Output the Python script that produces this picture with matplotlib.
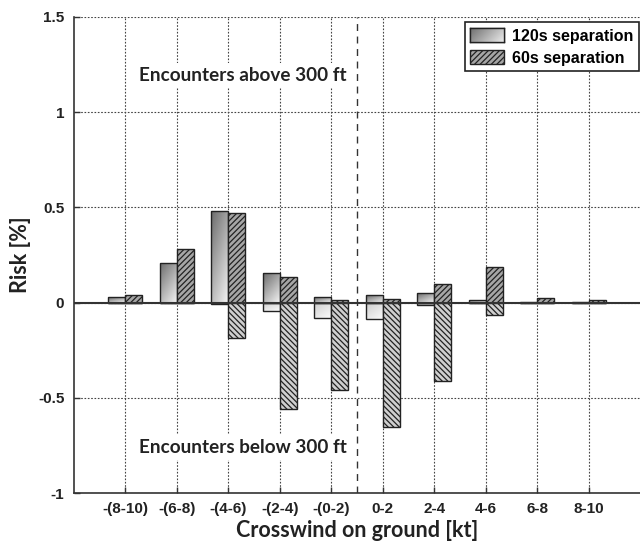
import numpy as np
import matplotlib
matplotlib.use("Agg")
import matplotlib.pyplot as plt
from matplotlib.patches import Rectangle

categories = ['-(8-10)', '-(6-8)', '-(4-6)', '-(2-4)', '-(0-2)', '0-2', '2-4', '4-6', '6-8', '8-10']
sep120_above = [0.028, 0.21, 0.482, 0.155, 0.030, 0.039, 0.051, 0.014, 0.004, 0.003]
sep120_below = [0.0, 0.0, -0.007, -0.044, -0.082, -0.086, -0.014, 0.0, 0.0, 0.0]
sep60_above = [0.039, 0.28, 0.472, 0.134, 0.013, 0.018, 0.097, 0.185, 0.026, 0.013]
sep60_below = [0.0, 0.0, -0.186, -0.559, -0.459, -0.654, -0.41, -0.066, 0.0, 0.0]

plt.rcParams['font.family'] = ['Liberation Sans', 'DejaVu Sans']
plt.rcParams['hatch.linewidth'] = 0.9
txt_font = ['Lato', 'DejaVu Sans']
dark = '#222222'

fig = plt.figure(figsize=(6.4, 5.46), dpi=100)
ax = fig.add_axes([0.1156, 0.0965, 0.8844, 0.8729])

x = np.arange(1, len(categories) + 1)
w = 0.33

g = np.linspace(0, 1, 64)
gx, gy = np.meshgrid(g, g)
ramp = 0.6 * gy + 0.4 * gx  # dark top-left -> light bottom-right


def gradient_bars(xs, vals, lo, hi):
    bars = ax.bar(xs, vals, w, facecolor='none', edgecolor=dark, lw=1.0, zorder=4)
    for b, v in zip(bars, vals):
        if v == 0:
            continue
        x0, y0 = b.get_x(), b.get_y()
        y1 = y0 + b.get_height()
        im = ax.imshow(lo + (hi - lo) * ramp, cmap='gray', vmin=0, vmax=1, origin='upper',
                       extent=[x0, x0 + w, min(y0, y1), max(y0, y1)],
                       aspect='auto', zorder=3, interpolation='bilinear')
        im.set_clip_path(b)


gradient_bars(x - w / 2, sep120_above, 0.42, 0.95)
gradient_bars(x - w / 2, sep120_below, 0.80, 0.98)

ax.bar(x + w / 2, sep60_above, w, facecolor='#a6a6a6', edgecolor=dark,
       hatch='//////', lw=1.0, zorder=4)
ax.bar(x + w / 2, sep60_below, w, facecolor='#cfcfcf', edgecolor=dark,
       hatch='\\\\\\\\\\\\', lw=1.0, zorder=4)

ax.axhline(0, color='#333333', lw=1.5, zorder=5)
ax.axvline(5.5, color='#333333', lw=1.0, ls=(0, (5, 4)), zorder=2)

ax.set_xlim(0, 11)
ax.set_ylim(-1, 1.5)
ax.set_yticks([-1, -0.5, 0, 0.5, 1, 1.5])
ax.set_yticklabels(['-1', '-0.5', '0', '0.5', '1', '1.5'])
ax.set_xticks(x)
ax.set_xticklabels(categories)
ax.tick_params(direction='in', length=4, labelsize=11, width=1, color='#333333')
ax.tick_params(axis='y', pad=7)
ax.tick_params(axis='x', pad=6)
for lab in ax.get_xticklabels() + ax.get_yticklabels():
    lab.set_fontweight('bold')
    lab.set_color(dark)

ax.grid(True, color='#444444', ls=(0, (1.5, 1.5)), lw=0.8)
ax.set_axisbelow(True)
for s in ['top', 'right']:
    ax.spines[s].set_visible(False)
for s in ['left', 'bottom']:
    ax.spines[s].set_color('#333333')
    ax.spines[s].set_linewidth(1.2)

ax.set_xlabel('Crosswind on ground [kt]', fontsize=15.5, fontweight='bold', family=txt_font,
              color=dark, labelpad=3)
ax.set_ylabel('Risk [%]', fontsize=15.5, fontweight='bold', family=txt_font,
              color=dark, labelpad=5)

ax.text(3.28, 1.19, 'Encounters above 300 ft', ha='center', va='center', fontsize=13.6,
        fontweight='bold', family=txt_font, color=dark, zorder=6,
        bbox=dict(facecolor='white', edgecolor='none', pad=3))
ax.text(3.28, -0.76, 'Encounters below 300 ft', ha='center', va='center', fontsize=13.6,
        fontweight='bold', family=txt_font, color=dark, zorder=6,
        bbox=dict(facecolor='white', edgecolor='none', pad=3))

h1 = Rectangle((0, 0), 1, 1, facecolor='#b8b8b8', edgecolor=dark, lw=1.0)
h2 = Rectangle((0, 0), 1, 1, facecolor='#a6a6a6', edgecolor=dark, lw=1.0, hatch='//////')
leg = ax.legend([h1, h2], ['120s separation', '60s separation'], loc='upper right',
                bbox_to_anchor=(0.999, 0.988), borderaxespad=0, fancybox=False, framealpha=1,
                edgecolor=dark, prop={'weight': 'bold', 'size': 11.5},
                handlelength=2.1, handleheight=1.0, borderpad=0.35, labelspacing=0.4,
                handletextpad=0.55, alignment='right')
leg.get_frame().set_linewidth(1.2)
leg.set_zorder(10)

# gradient fill for the 120s legend key
fig.canvas.draw()
bb = leg.legend_handles[0].get_window_extent().transformed(fig.transFigure.inverted())
kax = fig.add_axes([bb.x0, bb.y0, bb.width, bb.height], zorder=20)
kax.imshow(0.42 + 0.5 * (0.3 * gy + 0.7 * gx), cmap='gray', vmin=0, vmax=1,
           aspect='auto', interpolation='bilinear', extent=[0, 1, 0, 1])
kax.set_xticks([])
kax.set_yticks([])
for s in kax.spines.values():
    s.set_color(dark)
    s.set_linewidth(1.0)

fig.savefig('out.png', dpi=100)
